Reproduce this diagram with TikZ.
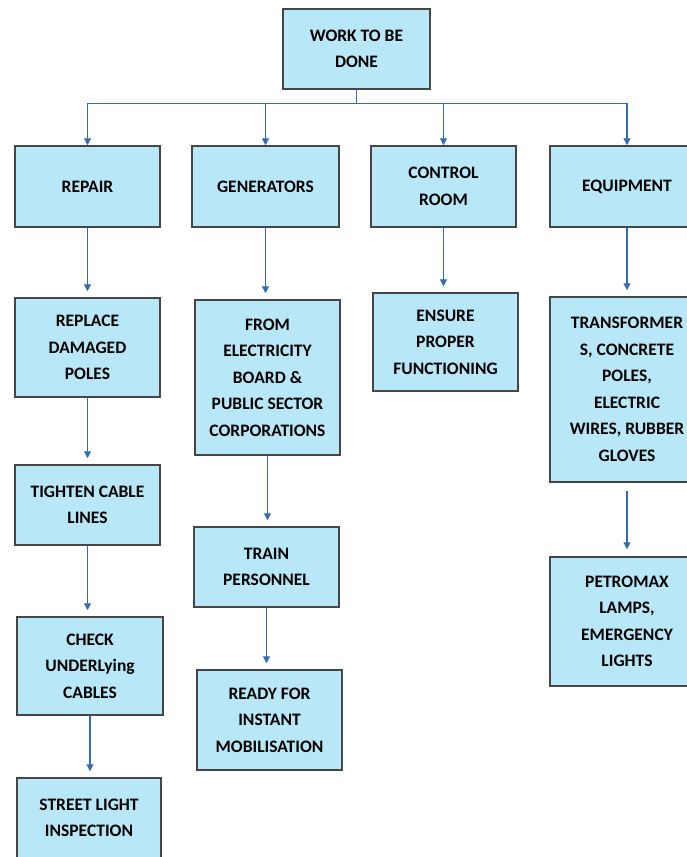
\documentclass[tikz,border=0pt]{standalone}
\usepackage{fontspec}
\setmainfont{Carlito}
\usetikzlibrary{calc, arrows.meta}

\definecolor{boxfill}{RGB}{184,232,248}
\definecolor{boxline}{RGB}{70,70,70}
\definecolor{linkblue}{RGB}{52,108,178}

\begin{document}
\begin{tikzpicture}[x=1pt, y=-1pt,
        task/.style={draw=boxline, line width=1.5pt, fill=boxfill, align=center,
            inner sep=0pt, font=\bfseries\fontsize{17.5}{26.5}\selectfont},
        link/.style={linkblue, line width=1.2pt, -{Triangle[length=7pt, width=7pt]}}]
        \fill[white] (0,0) rectangle (687,857);
        \useasboundingbox (0,0) rectangle (687,857);
        % top
        \node[task, minimum width=147pt, minimum height=80pt] (work) at (356.5,49) {WORK TO BE\\DONE};
        % first row
        \node[task, minimum width=145pt, minimum height=81pt] (repair) at (87.5,186.5) {REPAIR};
        \node[task, minimum width=147pt, minimum height=81pt] (gen) at (265.5,186.5) {GENERATORS};
        \node[task, minimum width=145pt, minimum height=81pt] (ctrl) at (443.5,186.5) {CONTROL\\ROOM};
        \node[task, minimum width=154pt, minimum height=81pt] (equip) at (627,186.5) {EQUIPMENT};
        % repair column
        \node[task, minimum width=145pt, minimum height=99pt] (replace) at (87.5,347.5) {REPLACE\\DAMAGED\\POLES};
        \node[task, minimum width=145pt, minimum height=80pt] (tighten) at (87.5,505) {TIGHTEN CABLE\\LINES};
        \node[task, minimum width=146pt, minimum height=98pt] (check) at (90,666) {CHECK\\UNDERLying\\CABLES};
        \node[task, minimum width=144pt, minimum height=80pt] (street) at (89,818) {STREET LIGHT\\INSPECTION};
        % generators column
        \node[task, minimum width=145pt, minimum height=155pt] (source) at (267.5,377.5) {FROM\\ELECTRICITY\\BOARD \&\\PUBLIC SECTOR\\CORPORATIONS};
        \node[task, minimum width=145pt, minimum height=80pt] (train) at (266.5,567) {TRAIN\\PERSONNEL};
        \node[task, minimum width=145pt, minimum height=100pt] (ready) at (269.5,720) {READY FOR\\INSTANT\\MOBILISATION};
        % control room column
        \node[task, minimum width=145pt, minimum height=98pt] (ensure) at (445.5,342) {ENSURE\\PROPER\\FUNCTIONING};
        % equipment column
        \node[task, minimum width=154pt, minimum height=185pt] (items) at (627,389.5) {TRANSFORMER\\S, CONCRETE\\POLES,\\ELECTRIC\\WIRES, RUBBER\\GLOVES};
        \node[task, minimum width=154pt, minimum height=129pt] (lamps) at (627,621.5) {PETROMAX\\LAMPS,\\EMERGENCY\\LIGHTS};

        \coordinate (bus) at ($(work.south)+(0,14)$);
        \draw[linkblue, line width=1.2pt] (work.south) -- (bus);
        \foreach \n in {repair,gen,ctrl,equip}
            \draw[link] (bus) -| (\n.north);
        \foreach \a/\b in {repair/replace, replace/tighten, tighten/check, check/street,
                gen/source, source/train, train/ready, ctrl/ensure, equip/items}
            \draw[link, shorten >=6pt] (\a.south) -- (\a.south |- \b.north);
        \draw[link, shorten <=8pt, shorten >=7pt] (items.south) -- (lamps.north);
\end{tikzpicture}
\end{document}
